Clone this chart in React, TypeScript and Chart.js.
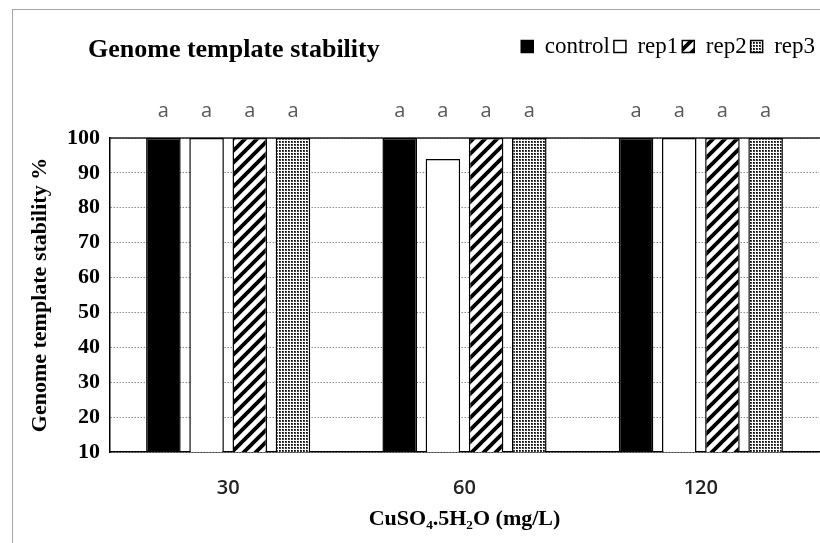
import { useEffect, useRef } from 'react';
import { Chart, registerables } from 'chart.js';

Chart.register(...registerables);

// CuSO4.5H2O doses (mg/L)
const doses = ['30', '60', '120'];

// genome template stability %
const control = [100, 100, 100];
const rep1 = [100, 94, 100];
const rep2 = [100, 100, 100];
const rep3 = [100, 100, 100];

// significance letters above bars
const controlLetters = ['a', 'a', 'a'];
const rep1Letters = ['a', 'a', 'a'];
const rep2Letters = ['a', 'a', 'a'];
const rep3Letters = ['a', 'a', 'a'];

const yMin = 10;
const yMax = 100;
const yStep = 10;

const SERIF = '"Liberation Serif", "Times New Roman", serif';
const SANS = '"Open Sans", "Liberation Sans", sans-serif';

function hatchPattern(): CanvasPattern | string {
  const c = document.createElement('canvas');
  c.width = 12;
  c.height = 12;
  const g = c.getContext('2d');
  if (!g) return '#888';
  g.fillStyle = '#fff';
  g.fillRect(0, 0, 12, 12);
  g.strokeStyle = '#000';
  g.lineWidth = 3.8;
  g.beginPath();
  g.moveTo(-2, 14); g.lineTo(14, -2);
  g.moveTo(-2, 2); g.lineTo(2, -2);
  g.moveTo(10, 14); g.lineTo(14, 10);
  g.stroke();
  return g.createPattern(c, 'repeat') ?? '#888';
}

function dotPattern(): CanvasPattern | string {
  const c = document.createElement('canvas');
  c.width = 3;
  c.height = 3;
  const g = c.getContext('2d');
  if (!g) return '#bbb';
  g.fillStyle = '#fff';
  g.fillRect(0, 0, 3, 3);
  g.fillStyle = '#444';
  g.fillRect(0, 0, 2, 2);
  g.fillStyle = '#000';
  g.fillRect(0, 0, 1, 1);
  return g.createPattern(c, 'repeat') ?? '#bbb';
}

export default function App(): JSX.Element {
  const canvasRef = useRef<HTMLCanvasElement>(null);

  useEffect(() => {
    if (!canvasRef.current) return;

    const letters = [controlLetters, rep1Letters, rep2Letters, rep3Letters];

    // leave room between legend row and plot for the letters
    const legendGap = {
      id: 'legendGap',
      beforeInit(chart: any): void {
        const legend = chart.legend;
        if (!legend) return;
        const fit = legend.fit;
        legend.fit = function (): void {
          fit.call(this);
          this.height += 70;
        };
      },
    };

    const decorations = {
      id: 'decorations',
      beforeDatasetsDraw(chart: Chart): void {
        const { ctx, chartArea } = chart;
        ctx.save();
        ctx.strokeStyle = '#222';
        ctx.lineWidth = 1.5;
        ctx.beginPath();
        ctx.moveTo(chartArea.left, chartArea.top);
        ctx.lineTo(chartArea.right + 30, chartArea.top);
        ctx.stroke();
        ctx.restore();
      },
      afterDatasetsDraw(chart: Chart): void {
        const { ctx, chartArea } = chart;
        ctx.save();
        ctx.font = `20px ${SANS}`;
        ctx.fillStyle = '#595959';
        ctx.textAlign = 'center';
        ctx.textBaseline = 'middle';
        letters.forEach((row, i) => {
          const meta = chart.getDatasetMeta(i);
          meta.data.forEach((bar, j) => {
            ctx.fillText(row[j], bar.x, chartArea.top - 27);
          });
        });
        ctx.font = `bold 26px ${SERIF}`;
        ctx.fillStyle = '#000';
        ctx.textAlign = 'left';
        ctx.textBaseline = 'alphabetic';
        ctx.fillText('Genome template stability', 88, 57);
        ctx.restore();
      },
    };

    const chart = new Chart(canvasRef.current, {
      type: 'bar',
      plugins: [legendGap, decorations],
      data: {
        labels: doses,
        datasets: [
          { label: 'control', data: control, backgroundColor: '#000', borderColor: '#000', borderWidth: 1.5 },
          { label: 'rep1', data: rep1, backgroundColor: '#fff', borderColor: '#000', borderWidth: 1.5 },
          { label: 'rep2', data: rep2, backgroundColor: hatchPattern(), borderColor: '#000', borderWidth: 1.5 },
          { label: 'rep3', data: rep3, backgroundColor: dotPattern(), borderColor: '#000', borderWidth: 1.5 },
        ],
      },
      options: {
        responsive: false,
        animation: false,
        categoryPercentage: 0.731,
        barPercentage: 0.8,
        layout: { padding: { top: 31, right: 21, bottom: 0, left: 0 } },
        plugins: {
          title: { display: false },
          tooltip: { enabled: false },
          legend: {
            position: 'top',
            align: 'end',
            labels: {
              boxWidth: 12,
              boxHeight: 12,
              padding: 4,
              color: '#000',
              font: { family: SERIF, size: 23 },
            },
          },
        },
        scales: {
          x: {
            grid: { display: false },
            border: { display: true, color: '#000', width: 1.5 },
            ticks: {
              color: '#222',
              padding: 16,
              font: { family: SANS, size: 20, weight: 600 },
            },
            title: {
              display: true,
              text: 'CuSO₄.5H₂O (mg/L)',
              color: '#000',
              padding: { top: 0, bottom: 10 },
              font: { family: SERIF, size: 22, weight: 'bold' },
            },
            afterFit(scale: any): void {
              scale.height = 91;
            },
          },
          y: {
            min: yMin,
            max: yMax,
            grid: { color: '#8c8c8c', lineWidth: 1, drawTicks: false },
            border: { display: true, color: '#000', width: 1.5, dash: [1.5, 1.5] },
            ticks: {
              stepSize: yStep,
              color: '#000',
              padding: 10,
              font: { family: SERIF, size: 22, weight: 'bold' },
            },
            title: {
              display: true,
              text: 'Genome template stability %',
              color: '#000',
              padding: { top: 27, bottom: 0 },
              font: { family: SERIF, size: 22, weight: 'bold' },
            },
            afterFit(scale: any): void {
              scale.width = 110;
            },
          },
        },
      },
    });

    return () => { chart.destroy(); };
  }, []);

  return (
    <div style={{ position: 'fixed', left: 0, top: 0, width: 820, height: 543, overflow: 'hidden', background: '#fff' }}>
      <div style={{ position: 'absolute', left: 12, top: 9, width: 1000, height: 1000, border: '1px solid #a6a6a6' }} />
      <canvas
        ref={canvasRef}
        width={840}
        height={543}
        style={{ position: 'absolute', left: 0, top: 0 }}
        role="img"
        aria-label="Grouped bar chart of genome template stability for control and three replicates at three CuSO4.5H2O doses."
      />
    </div>
  );
}
